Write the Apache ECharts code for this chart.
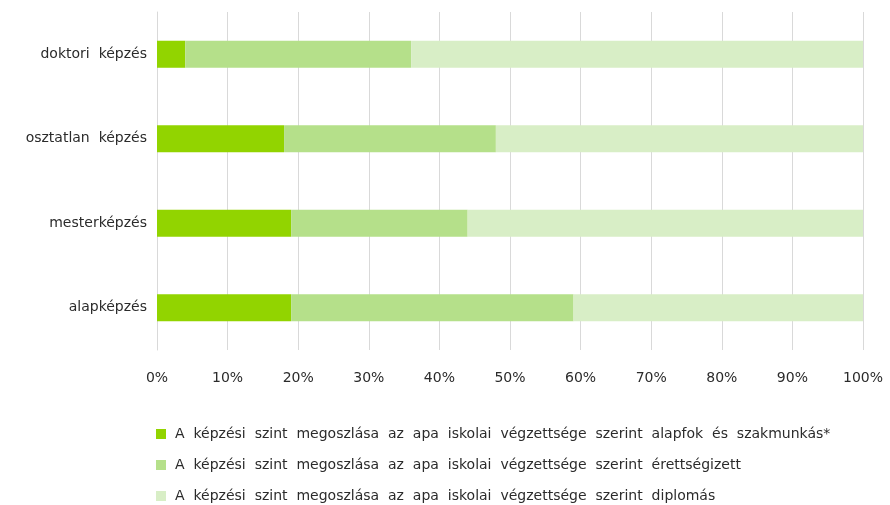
<!DOCTYPE html>
<html style="height: 100%">
   <head>
       <meta charset="utf-8">
   </head>
   <body style="height: 100%; margin: 0; background: #fff;">
       <div id="container" style="height: 505px; width: 890px;"></div>

       <script type="text/javascript" src="https://cdn.jsdelivr.net/npm/echarts@6/dist/echarts.min.js"></script>
       <script type="text/javascript">
            // kategóriák alulról felfelé
            var categories = ['alapképzés', 'mesterképzés', 'osztatlan képzés', 'doktori képzés'];
            var seriesNames = [
                'A képzési szint megoszlása az apa iskolai végzettsége szerint alapfok és szakmunkás*',
                'A képzési szint megoszlása az apa iskolai végzettsége szerint érettségizett',
                'A képzési szint megoszlása az apa iskolai végzettsége szerint diplomás'
            ];
            var alapfok = [19, 19, 18, 4];
            var erettsegi = [40, 25, 30, 32];
            var diplomas = [41, 56, 52, 64];
            var colors = ['#92d400', '#b5e08a', '#d8eec6'];

            var fontName = 'DejaVu Sans';

            // az eredeti ábrán széles a szóköz
            function wide(s) {
                return s.split(' ').join('  ');
            }

            var dom = document.getElementById("container");
            var myChart = echarts.init(dom);
            var option = {
                animation: false,
                textStyle: { fontFamily: fontName },
                grid: {
                    left: 157,
                    right: 27,
                    top: 12,
                    bottom: 155,
                    containLabel: false
                },
                legend: {
                    orient: 'vertical',
                    left: 151,
                    top: 422,
                    height: 80,
                    itemGap: 17,
                    itemWidth: 10,
                    itemHeight: 10,
                    icon: 'rect',
                    formatter: function (name) {
                        return wide(name);
                    },
                    textStyle: {
                        fontFamily: fontName,
                        fontSize: 14,
                        color: '#2b2b2b',
                        padding: [0, 0, 0, 4]
                    },
                    data: seriesNames
                },
                xAxis: {
                    type: 'value',
                    min: 0,
                    max: 100,
                    interval: 10,
                    axisLine: { show: false },
                    axisTick: { show: false },
                    splitLine: {
                        show: true,
                        lineStyle: { color: '#d9d9d9', width: 1 }
                    },
                    axisLabel: {
                        formatter: '{value}%',
                        color: '#2b2b2b',
                        fontSize: 14,
                        margin: 21
                    }
                },
                yAxis: {
                    type: 'category',
                    data: categories,
                    axisLine: {
                        show: true,
                        lineStyle: { color: '#d9d9d9' }
                    },
                    axisTick: { show: false },
                    axisLabel: {
                        color: '#2b2b2b',
                        fontSize: 14,
                        margin: 10,
                        formatter: function (v) {
                            return wide(v);
                        }
                    }
                },
                series: [
                    {
                        name: seriesNames[0],
                        type: 'bar',
                        stack: 'total',
                        barWidth: '32%',
                        itemStyle: { color: colors[0] },
                        data: alapfok
                    },
                    {
                        name: seriesNames[1],
                        type: 'bar',
                        stack: 'total',
                        barWidth: '32%',
                        itemStyle: { color: colors[1] },
                        data: erettsegi
                    },
                    {
                        name: seriesNames[2],
                        type: 'bar',
                        stack: 'total',
                        barWidth: '32%',
                        itemStyle: { color: colors[2] },
                        data: diplomas
                    }
                ]
            };
            myChart.setOption(option, true);
       </script>
   </body>
</html>
